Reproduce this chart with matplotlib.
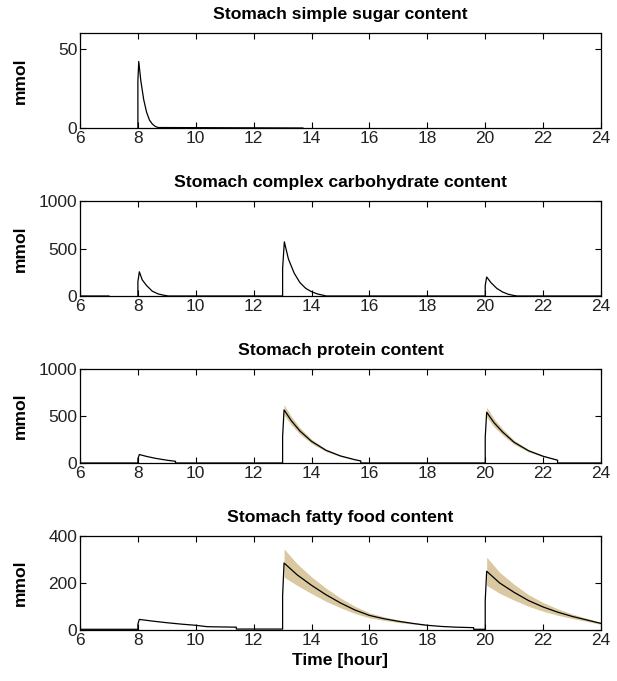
import numpy as np
import matplotlib
matplotlib.use("Agg")
import matplotlib.pyplot as plt

nan = np.nan

titles = ["Stomach simple sugar content",
          "Stomach complex carbohydrate content",
          "Stomach protein content",
          "Stomach fatty food content"]
ylims = [60, 1000, 1000, 400]
yticks = [[0, 50], [0, 500, 1000], [0, 500, 1000], [0, 200, 400]]
xticks = [6, 8, 10, 12, 14, 16, 18, 20, 22, 24]

# Simple sugar
sugar_t = [8.0, 8.0, 8.03, 8.1, 8.2, 8.3, 8.4, 8.5, 8.6, 8.7, 13.7]
sugar_v = [0, 30, 42, 30, 18, 10, 5, 2.5, 1, 0.3, 0]

# Complex carbohydrate
carb_t = [6, 7, nan, 8.0, 8.0, 8.05, 8.15, 8.3, 8.5, 8.7, 8.9, 9.05,
          13.0, 13.0, 13.06, 13.2, 13.4, 13.6, 13.8, 14.0, 14.2, 14.4, 14.5,
          20.0, 20.0, 20.05, 20.2, 20.4, 20.6, 20.8, 21.0, 21.1, 24]
carb_v = [0, 0, nan, 0, 150, 255, 170, 110, 50, 22, 8, 0,
          0, 290, 570, 390, 240, 140, 80, 45, 22, 8, 0,
          0, 110, 200, 140, 80, 42, 18, 5, 0, 0]

# Protein
prot_t = [6, 8.0, 8.0, 8.05, 8.3, 8.6, 9.0, 9.3, 9.3,
          13.0, 13.0, 13.05, 13.3, 13.6, 14.0, 14.5, 15.0, 15.5, 15.7, 15.7,
          20.0, 20.0, 20.05, 20.3, 20.6, 21.0, 21.5, 22.0, 22.5, 22.5, 24]
prot_v = [0, 0, 45, 90, 70, 50, 30, 18, 0,
          0, 280, 565, 450, 340, 230, 135, 75, 35, 22, 0,
          0, 270, 540, 430, 330, 220, 130, 72, 30, 0, 0]
prot_band1_t = [13.05, 13.3, 13.6, 14.0, 14.5, 15.0, 15.5, 15.7]
prot_band1_lo = [510, 405, 306, 207, 122, 68, 32, 20]
prot_band1_hi = [620, 495, 374, 253, 148, 82, 38, 24]
prot_band2_t = [20.05, 20.3, 20.6, 21.0, 21.5, 22.0, 22.5]
prot_band2_lo = [486, 387, 297, 198, 117, 65, 27]
prot_band2_hi = [594, 473, 363, 242, 143, 79, 33]

# Fatty food
fat_t = [6, 8.0, 8.0, 8.05, 8.5, 9.0, 9.5, 10.0, 10.4, 11.4, 11.4, 13.0,
         13.0, 13.05, 13.5, 14.0, 14.5, 15.0, 15.5, 16.0, 16.5, 17.0, 17.5,
         18.0, 18.5, 19.0, 19.6, 19.6, 20.0,
         20.0, 20.05, 20.5, 21.0, 21.5, 22.0, 22.5, 23.0, 23.5, 24]
fat_v = [3, 3, 25, 45, 38, 31, 25, 20, 14, 12, 4, 4,
         145, 285, 235, 190, 150, 115, 85, 62, 48, 37, 28,
         20, 15, 12, 10, 3, 3,
         125, 250, 200, 160, 125, 98, 76, 58, 43, 28]
fat_band1_t = [13.05, 13.5, 14.0, 14.5, 15.0, 15.5, 16.0, 16.5, 17.0, 17.5, 18.0]
fat_band1_lo = [225, 190, 155, 122, 95, 70, 52, 41, 32, 25, 18]
fat_band1_hi = [345, 282, 226, 178, 136, 101, 73, 56, 43, 32, 22]
fat_band2_t = [20.05, 20.5, 21.0, 21.5, 22.0, 22.5, 23.0, 23.5, 24]
fat_band2_lo = [190, 156, 127, 101, 80, 63, 49, 37, 24]
fat_band2_hi = [310, 245, 194, 150, 117, 90, 68, 50, 32]

series = [(sugar_t, sugar_v, []),
          (carb_t, carb_v, []),
          (prot_t, prot_v, [(prot_band1_t, prot_band1_lo, prot_band1_hi),
                            (prot_band2_t, prot_band2_lo, prot_band2_hi)]),
          (fat_t, fat_v, [(fat_band1_t, fat_band1_lo, fat_band1_hi),
                          (fat_band2_t, fat_band2_lo, fat_band2_hi)])]

plt.rcParams['font.family'] = ['Liberation Sans', 'DejaVu Sans']

fig = plt.figure(figsize=(6.17, 6.81), dpi=100)
H = 681.0
W = 617.0
tops = [33, 201, 369, 536]
bottoms = [128, 296, 463, 630]
left, right = 80, 601
band_color = '#d9c8a0'

for i in range(4):
    ax = fig.add_axes([left / W, 1 - bottoms[i] / H, (right - left) / W,
                       (bottoms[i] - tops[i]) / H])
    t, v, bands = series[i]
    for bt, blo, bhi in bands:
        ax.fill_between(bt, blo, bhi, color=band_color, lw=0)
    ax.plot(t, v, color='black', lw=0.9)
    ax.set_xlim(6, 24)
    ax.set_ylim(0, ylims[i])
    ax.set_xticks(xticks)
    ax.set_yticks(yticks[i])
    ax.tick_params(direction='in', top=True, right=True, length=4,
                   width=0.8, labelsize=12.5, pad=2, labelcolor='#222222')
    for s in ax.spines.values():
        s.set_linewidth(0.9)
    ax.set_title(titles[i], fontsize=12.6, fontweight='bold', pad=10)
    ax.set_ylabel('mmol', fontsize=12.6, fontweight='bold')
    ax.yaxis.set_label_coords(-0.10, 0.5)
    if i == 3:
        ax.set_xlabel('Time [hour]', fontsize=12.6, fontweight='bold',
                      labelpad=4)

fig.savefig('out.png', dpi=100)
